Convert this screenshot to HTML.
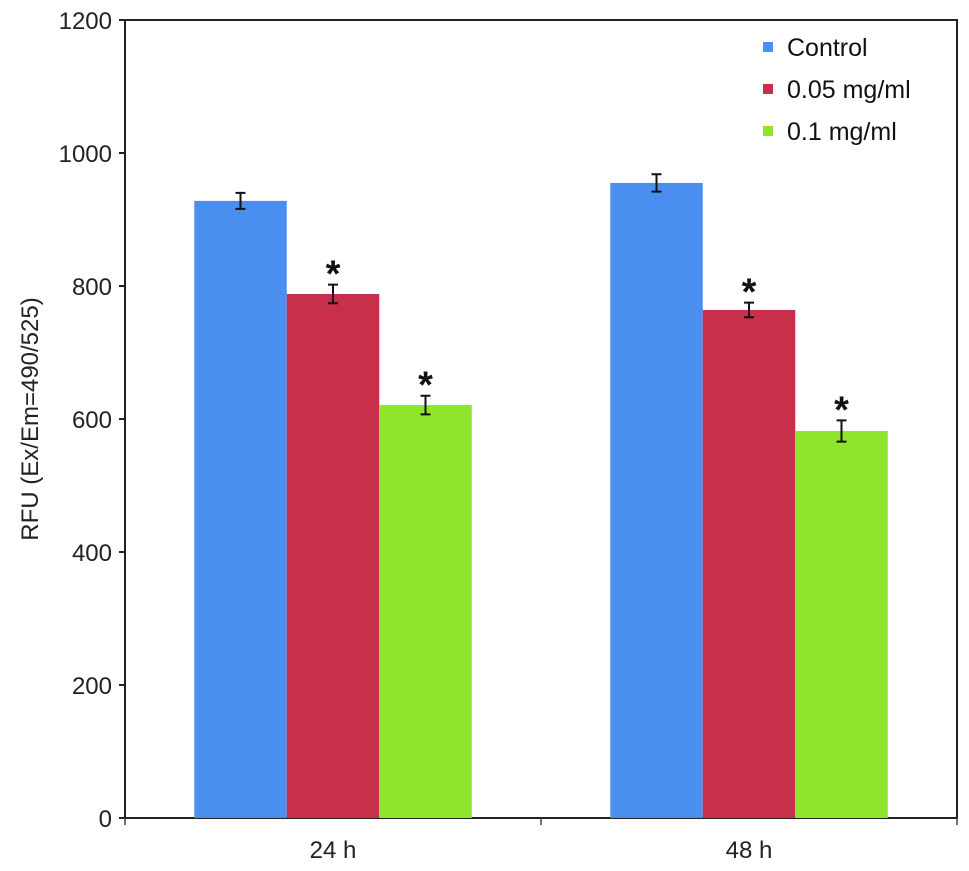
<!DOCTYPE html>
<html><head><meta charset="utf-8"><style>
body{margin:0;background:#fff;width:969px;height:866px;overflow:hidden}
svg{font-family:"Liberation Sans",sans-serif}
</style></head><body>
<svg id="chart" width="969" height="866" viewBox="0 0 969 866"></svg>
<script>
const categories=["24 h","48 h"];
const seriesNames=["Control","0.05 mg/ml","0.1 mg/ml"];
const colors=["#4a8ff0","#c72f4a","#8ee52a"];
const values=[[928,955],[788,764],[621,582]];
const errors=[[12,13],[14,11],[14,16]];
const stars=[[false,false],[true,true],[true,true]];
const yTicks=[0,200,400,600,800,1000,1200];
const NS="http://www.w3.org/2000/svg";
const svg=document.getElementById('chart');
const L=125,R=957,T=20,B=818;
const y=v=>B-(v/1200)*(B-T);
const catW=(R-L)/categories.length;
const barW=92.5;
function el(t,a,txt){const e=document.createElementNS(NS,t);for(const k in a)e.setAttribute(k,a[k]);if(txt!=null)e.textContent=txt;svg.appendChild(e);return e;}
let e;
e=el('rect',{x:L,y:T,width:R-L,height:B-T,fill:'none',stroke:'#222','stroke-width':2});


yTicks.forEach(t=>{
 e=el('line',{x1:L-6,x2:L,y1:y(t),y2:y(t),stroke:'#222','stroke-width':2});
 
 
 e=el('text',{x:L-13,y:y(t)+9,'text-anchor':'end','font-size':24,fill:'#222'},t);
 
 
});
for(let i=0;i<=categories.length;i++){
 e=el('line',{x1:L+i*catW,x2:L+i*catW,y1:B,y2:B+7,stroke:'#444','stroke-width':1.5});
 
 
}
categories.forEach((c,ci)=>{
 const cx=L+catW*(ci+0.5);
 e=el('text',{x:cx,y:858,'text-anchor':'middle','font-size':24,fill:'#222'},c);
 
 
 seriesNames.forEach((s,si)=>{
  const x0=cx-1.5*barW+si*barW, v=values[si][ci], er=errors[si][ci];
  e=el('rect',{x:x0,y:y(v),width:barW,height:B-y(v),fill:colors[si]});
  
  
  const mx=x0+barW/2;
  e=el('path',{d:`M${mx-5} ${y(v+er)}H${mx+5}M${mx} ${y(v+er)}V${y(v-er)}M${mx-5} ${y(v-er)}H${mx+5}`,stroke:'#111','stroke-width':2,fill:'none'});
  
  
  if(stars[si][ci]){
   e=el('text',{x:mx,y:y(v+er)+2,'text-anchor':'middle','font-size':38,'font-weight':'bold',fill:'#111'},'*');
   
   
  }
 });
});
e=el('text',{transform:'translate(38,419) rotate(-90)','text-anchor':'middle','font-size':24,fill:'#222'},'RFU (Ex/Em=490/525)');


seriesNames.forEach((s,si)=>{
 const ly=47+si*42;
 e=el('rect',{x:763,y:ly-5,width:10,height:10,fill:colors[si]});
 
 
 e=el('text',{x:787,y:ly+9,'font-size':25,fill:'#111'},s);
 
 
});
</script>
</body></html>
